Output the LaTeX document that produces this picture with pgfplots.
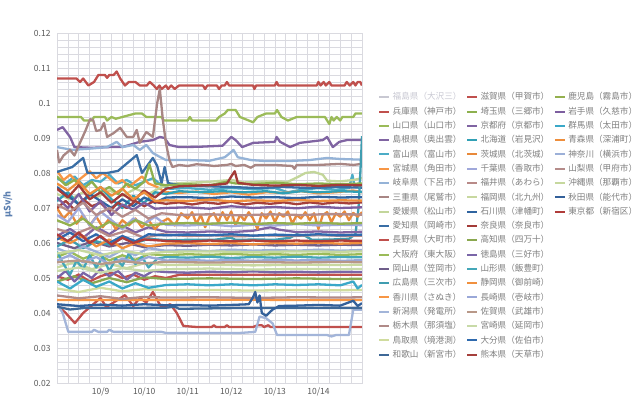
\documentclass[border=0pt]{standalone}
\usepackage{fontspec}
\setmainfont{Noto Sans CJK JP}
\usepackage{pgfplots}
\pgfplotsset{compat=1.18}
\definecolor{gridc}{HTML}{DADAE0}
\definecolor{tickc}{HTML}{595959}
\definecolor{legc}{HTML}{7F7F7F}
\definecolor{ylabc}{HTML}{5B7FB0}
\definecolor{cFukushima}{HTML}{C8C8D2}
\definecolor{cHyogo}{HTML}{C0504D}
\definecolor{cYamaguchi}{HTML}{9BBB59}
\definecolor{cShimane}{HTML}{8064A2}
\definecolor{cToyama}{HTML}{4BACC6}
\definecolor{cMiyagi}{HTML}{F79646}
\definecolor{cGifu}{HTML}{95B3D7}
\definecolor{cMie}{HTML}{A88684}
\definecolor{cEhime}{HTML}{C3D69B}
\definecolor{cAichi}{HTML}{3A6EA5}
\definecolor{cNagano}{HTML}{C0504D}
\definecolor{cOsaka}{HTML}{9BBB59}
\definecolor{cOkayama}{HTML}{6F5E8A}
\definecolor{cHiroshima}{HTML}{3F9DB0}
\definecolor{cKagawa}{HTML}{F79646}
\definecolor{cNiigata}{HTML}{A3B5D9}
\definecolor{cTochigi}{HTML}{B08A88}
\definecolor{cTottori}{HTML}{D0DC9E}
\definecolor{cWakayama}{HTML}{3E6897}
\definecolor{cShiga}{HTML}{C0504D}
\definecolor{cSaitama}{HTML}{8DB04E}
\definecolor{cKyoto}{HTML}{8064A2}
\definecolor{cHokkaido}{HTML}{31A0B5}
\definecolor{cIbaraki}{HTML}{E8893A}
\definecolor{cChiba}{HTML}{A0A8DA}
\definecolor{cFukui}{HTML}{B88A88}
\definecolor{cFukuoka}{HTML}{C8D8A0}
\definecolor{cIshikawa}{HTML}{3064A0}
\definecolor{cNara}{HTML}{A33B38}
\definecolor{cKochi}{HTML}{8AA84F}
\definecolor{cTokushima}{HTML}{7A66A8}
\definecolor{cYamagata}{HTML}{44A7B8}
\definecolor{cShizuoka}{HTML}{F0903E}
\definecolor{cNagasaki}{HTML}{9AA8D8}
\definecolor{cSaga}{HTML}{B89888}
\definecolor{cMiyazaki}{HTML}{C8DAA8}
\definecolor{cOita}{HTML}{2F6AAE}
\definecolor{cKumamoto}{HTML}{A5403C}
\definecolor{cKagoshima}{HTML}{94B04E}
\definecolor{cIwate}{HTML}{7D5FA0}
\definecolor{cGunma}{HTML}{3AA8C8}
\definecolor{cAomori}{HTML}{EE8E3C}
\definecolor{cKanagawa}{HTML}{9CB0D8}
\definecolor{cYamanashi}{HTML}{B58C8A}
\definecolor{cOkinawa}{HTML}{C6D89E}
\definecolor{cAkita}{HTML}{33609A}
\definecolor{cTokyo}{HTML}{B03C3A}
\newcommand{\LE}[2]{\addlegendimage{color=#1}\addlegendentry{#2}}
\newcommand{\LEmpty}{\addlegendimage{empty legend}\addlegendentry{}}
\begin{document}
\begin{tikzpicture}
\begin{axis}[
  at={(0pt,0pt)}, anchor=south west,
  scale only axis, width=305pt, height=350pt,
  xmin=0, xmax=7, ymin=0.02, ymax=0.12,
  xtick={1,2,3,4,5,6},
  xticklabels={10/9,10/10,10/11,10/12,10/13,10/14},
  minor xtick={0,0.25,0.5,0.75,1.25,1.5,1.75,2.25,2.5,2.75,3.25,3.5,3.75,4.25,4.5,4.75,5.25,5.5,5.75,6.25,6.5,6.75,7},
  ytick={0.02,0.03,0.04,0.05,0.06,0.07,0.08,0.09,0.1,0.11,0.12},
  minor ytick={0.022,0.024,0.026,0.028,0.032,0.034,0.036,0.038,0.042,0.044,0.046,0.048,0.052,0.054,0.056,0.058,0.062,0.064,0.066,0.068,0.072,0.074,0.076,0.078,0.082,0.084,0.086,0.088,0.092,0.094,0.096,0.098,0.102,0.104,0.106,0.108,0.112,0.114,0.116,0.118},
  grid=both,
  major grid style={color=gridc, line width=0.7pt},
  minor grid style={color=gridc, line width=0.7pt},
  axis line style={color=gridc, line width=0.7pt},
  major tick length=0pt, minor tick length=0pt,
  /pgf/number format/assume math mode=true,
  ticklabel style={font=\fontsize{8.5}{10}\selectfont, text=tickc},
  yticklabel style={/pgf/number format/fixed, /pgf/number format/precision=2, xshift=-3pt},
  xticklabel style={yshift=-1.5pt},
  scaled y ticks=false,
  ylabel={μSv/h},
  every axis y label/.style={at={(axis description cs:-0.161,0.51)}, rotate=90, anchor=center, font=\bfseries\fontsize{9}{10}\selectfont, text=ylabc},
  every axis plot/.append style={line width=2.3pt, line join=round},
  legend columns=3,
  legend cell align=left,
  legend image code/.code={\draw[#1, line width=2pt] (0pt,0pt) -- (10pt,0pt);},
  legend style={at={(axis description cs:1.0525,0.833)}, anchor=north west, draw=none, fill=none, inner sep=0pt,
    font=\fontsize{8.6}{10}\selectfont, text=legc, row sep=3pt,
    nodes={inner ysep=0pt, inner xsep=2.5pt, text height=8.3pt, text depth=3pt},
    /tikz/every even column/.append style={column sep=2pt}},
]
% ---- plots (drawn in series order) ----
\addplot[forget plot, color=cHyogo] coordinates {(0,0.107)(0.45,0.107)(0.53,0.106)(0.6,0.107)(0.72,0.105)(0.85,0.106)(0.95,0.108)(1.1,0.108)(1.15,0.1072)(1.2,0.108)(1.3,0.108)(1.37,0.109)(1.45,0.107)(1.56,0.105)(1.65,0.106)(1.8,0.106)(1.9,0.105)(2.06,0.105)(2.13,0.106)(2.22,0.105)(2.29,0.104)(2.35,0.105)(2.4,0.104)(2.5,0.105)(2.55,0.104)(2.62,0.105)(2.7,0.104)(2.8,0.105)(3.35,0.105)(3.4,0.104)(3.45,0.105)(3.67,0.105)(3.72,0.104)(3.78,0.105)(3.85,0.105)(3.9,0.106)(3.95,0.105)(4.5,0.105)(4.53,0.104)(4.57,0.105)(5.0,0.105)(5.04,0.106)(5.08,0.105)(5.96,0.105)(6.0,0.106)(6.05,0.105)(6.12,0.106)(6.17,0.105)(6.25,0.106)(6.3,0.105)(6.6,0.105)(6.65,0.106)(6.72,0.105)(6.8,0.106)(6.85,0.105)(6.9,0.106)(6.96,0.106)(7.0,0.105)};
\addplot[forget plot, color=cYamaguchi] coordinates {(0,0.096)(0.55,0.096)(0.62,0.095)(0.8,0.095)(0.85,0.096)(1.1,0.096)(1.15,0.095)(1.25,0.096)(1.35,0.0955)(1.5,0.096)(1.8,0.097)(1.95,0.097)(2.05,0.096)(2.4,0.096)(2.45,0.095)(3.0,0.095)(3.05,0.096)(3.1,0.095)(3.65,0.095)(3.72,0.096)(3.85,0.097)(3.92,0.098)(4.1,0.098)(4.2,0.096)(4.4,0.095)(4.5,0.0945)(4.6,0.096)(4.8,0.097)(5.0,0.097)(5.05,0.098)(5.15,0.096)(5.3,0.095)(5.5,0.096)(6.15,0.096)(6.2,0.095)(6.25,0.094)(6.3,0.096)(6.35,0.095)(6.42,0.096)(6.5,0.095)(6.55,0.096)(6.8,0.096)(6.85,0.097)(7.0,0.097)};
\addplot[forget plot, color=cShimane] coordinates {(0,0.0923)(0.13,0.0931)(0.3,0.0903)(0.4,0.0874)(0.8,0.0872)(1.2,0.0874)(1.5,0.0874)(1.9,0.0889)(2.2,0.0894)(2.36,0.0903)(2.47,0.090)(2.58,0.088)(2.8,0.0874)(3.28,0.0875)(3.8,0.0878)(4.0,0.0903)(4.1,0.0894)(4.25,0.0874)(4.5,0.0886)(5.0,0.0889)(5.04,0.0903)(5.12,0.0889)(5.35,0.0874)(5.57,0.0886)(6.1,0.0894)(6.2,0.0903)(6.33,0.0874)(6.48,0.0889)(6.65,0.0894)(7.0,0.0894)};
\addplot[forget plot, color=cToyama] coordinates {(0,0.0785)(0.2,0.077)(0.4,0.079)(0.6,0.0765)(0.8,0.078)(1.0,0.0775)(1.2,0.0795)(1.4,0.077)(1.6,0.078)(1.8,0.0765)(2.0,0.0775)(2.2,0.0785)(2.4,0.0765)(2.6,0.0755)(3.0,0.0757)(3.5,0.0752)(4.0,0.0757)(4.5,0.0754)(5.0,0.0757)(5.3,0.0745)(5.6,0.0752)(6.0,0.0757)(6.4,0.0752)(6.7,0.0757)(6.78,0.0795)(6.83,0.076)(7.0,0.0758)};
\addplot[forget plot, color=cMiyagi] coordinates {(0,0.0806)(0.15,0.078)(0.3,0.0795)(0.45,0.0775)(0.6,0.079)(0.75,0.0805)(0.9,0.0785)(1.05,0.080)(1.2,0.0785)(1.35,0.077)(1.5,0.078)(1.65,0.076)(1.8,0.0775)(1.95,0.079)(2.1,0.077)(2.3,0.076)(2.5,0.0745)(2.8,0.0743)(3.2,0.0747)(3.6,0.074)(4.0,0.0745)(4.4,0.0738)(4.8,0.0745)(5.2,0.0743)(5.6,0.0748)(6.0,0.0742)(6.4,0.0745)(6.8,0.075)(7.0,0.0745)};
\addplot[forget plot, color=cGifu] coordinates {(0,0.0874)(0.35,0.0866)(0.8,0.087)(1.15,0.0874)(1.37,0.0889)(1.5,0.0874)(1.75,0.088)(1.9,0.0866)(2.05,0.088)(2.2,0.0857)(2.36,0.0846)(2.5,0.0837)(3.0,0.0837)(3.5,0.0835)(3.85,0.0845)(3.97,0.0857)(4.05,0.0866)(4.15,0.0845)(4.45,0.0837)(4.8,0.0834)(5.3,0.0834)(5.8,0.0837)(6.2,0.0843)(6.5,0.084)(7.0,0.0838)};
\addplot[forget plot, color=cMie] coordinates {(0,0.0866)(0.05,0.083)(0.15,0.085)(0.3,0.0866)(0.4,0.085)(0.53,0.0887)(0.65,0.092)(0.76,0.0954)(0.83,0.0951)(0.9,0.092)(1.0,0.0923)(1.08,0.0943)(1.15,0.0903)(1.3,0.0914)(1.45,0.0929)(1.6,0.0903)(1.75,0.0903)(1.83,0.0923)(1.9,0.0886)(2.05,0.0917)(2.2,0.0903)(2.3,0.100)(2.36,0.104)(2.43,0.0951)(2.5,0.0886)(2.58,0.0837)(2.65,0.0817)(2.8,0.0823)(3.0,0.082)(3.2,0.0825)(3.4,0.0823)(3.6,0.082)(3.9,0.0823)(4.0,0.0826)(4.1,0.082)(4.3,0.0823)(4.45,0.0815)(4.55,0.0823)(5.0,0.0823)(5.4,0.082)(5.45,0.0812)(5.5,0.0823)(6.0,0.0823)(6.5,0.0826)(6.8,0.0823)(7.0,0.0826)};
\addplot[forget plot, color=cEhime] coordinates {(0,0.074)(0.3,0.0725)(0.6,0.0745)(0.9,0.073)(1.2,0.075)(1.5,0.0735)(1.8,0.0755)(2.1,0.074)(2.4,0.076)(2.7,0.077)(3.0,0.0772)(3.5,0.0775)(4.0,0.078)(4.3,0.0773)(4.8,0.0776)(5.3,0.0775)(5.55,0.079)(5.7,0.080)(5.9,0.0803)(6.1,0.0795)(6.2,0.0778)(6.5,0.0776)(6.8,0.078)(7.0,0.0785)};
\addplot[forget plot, color=cAichi] coordinates {(0,0.0803)(0.35,0.0817)(0.6,0.0843)(0.7,0.080)(1.15,0.080)(1.4,0.0806)(1.83,0.0851)(1.95,0.080)(2.2,0.0843)(2.3,0.082)(2.4,0.0771)(2.47,0.0817)(2.55,0.0771)(2.8,0.0766)(3.3,0.0763)(4.0,0.076)(4.6,0.0757)(5.2,0.076)(5.8,0.0757)(6.4,0.076)(7.0,0.0758)};
\addplot[forget plot, color=cNagano] coordinates {(0,0.0423)(0.2,0.040)(0.41,0.0371)(0.6,0.040)(1.0,0.0443)(1.13,0.0417)(1.3,0.043)(1.56,0.0451)(1.75,0.042)(1.9,0.0443)(2.05,0.043)(2.2,0.046)(2.4,0.0415)(2.6,0.0425)(2.75,0.040)(2.9,0.0363)(3.2,0.036)(3.55,0.036)(3.6,0.0365)(3.65,0.036)(3.85,0.036)(3.9,0.0365)(3.95,0.036)(4.5,0.036)(4.6,0.0365)(4.7,0.0365)(4.75,0.036)(4.85,0.0365)(4.9,0.036)(7.0,0.036)};
\addplot[forget plot, color=cOsaka] coordinates {(0,0.056)(0.3,0.0575)(0.6,0.0555)(0.9,0.057)(1.2,0.055)(1.5,0.0565)(1.8,0.0552)(2.1,0.0568)(2.5,0.0565)(3.0,0.0568)(3.5,0.0566)(4.0,0.0569)(4.5,0.0566)(5.0,0.0568)(5.5,0.0566)(6.0,0.0569)(6.5,0.0566)(7.0,0.0568)};
\addplot[forget plot, color=cOkayama] coordinates {(0,0.060)(0.4,0.0585)(0.8,0.0605)(1.2,0.059)(1.6,0.060)(2.0,0.0588)(2.5,0.0594)(3.0,0.0592)(3.5,0.0595)(4.0,0.0593)(4.5,0.0596)(5.0,0.0593)(5.5,0.0595)(6.0,0.0593)(6.5,0.0595)(7.0,0.0594)};
\addplot[forget plot, color=cHiroshima] coordinates {(0,0.059)(0.3,0.061)(0.6,0.0585)(0.9,0.0605)(1.2,0.0595)(1.5,0.0615)(1.8,0.060)(2.1,0.0612)(2.5,0.0608)(3.0,0.0609)(3.6,0.0609)(4.0,0.0615)(4.1,0.0609)(4.6,0.061)(5.0,0.0609)(5.35,0.0615)(5.5,0.0625)(5.7,0.062)(5.85,0.0609)(6.3,0.061)(6.7,0.0612)(6.85,0.0625)(6.92,0.070)(6.97,0.082)(7.0,0.0905)};
\addplot[forget plot, color=cKagawa] coordinates {(0,0.0437)(2,0.0437)(4,0.0438)(6,0.0437)(7,0.0437)};
\addplot[forget plot, color=cNiigata] coordinates {(0,0.0426)(0.13,0.040)(0.26,0.0346)(0.8,0.0346)(0.85,0.0352)(0.95,0.0346)(1.15,0.0346)(1.2,0.0352)(1.3,0.0346)(2.4,0.0346)(2.5,0.0343)(4.2,0.0343)(4.55,0.0346)(4.65,0.039)(4.8,0.0385)(4.95,0.037)(5.05,0.0337)(6.2,0.0337)(6.3,0.0333)(6.4,0.0337)(6.7,0.0337)(6.8,0.0409)(6.9,0.0409)(7.0,0.0409)};
\addplot[forget plot, color=cTochigi] coordinates {(0,0.045)(0.5,0.0442)(1.0,0.0448)(1.5,0.044)(2.0,0.0446)(2.5,0.0444)(3.5,0.0445)(4.5,0.0443)(5.5,0.0445)(6.5,0.0444)(7.0,0.0445)};
\addplot[forget plot, color=cTottori] coordinates {(0,0.047)(0.5,0.046)(1.0,0.0472)(1.5,0.0462)(2.0,0.0468)(2.5,0.0465)(3.5,0.0466)(4.5,0.0464)(5.5,0.0466)(6.5,0.0465)(7.0,0.0466)};
\addplot[forget plot, color=cWakayama] coordinates {(0,0.0418)(0.3,0.041)(0.6,0.0414)(1.5,0.0414)(2.5,0.0415)(2.7,0.0418)(2.8,0.0412)(4.0,0.0414)(5.5,0.0414)(7.0,0.0414)};
\addplot[forget plot, color=cShiga] coordinates {(0,0.0505)(0.25,0.0495)(0.5,0.051)(0.75,0.049)(1.0,0.0505)(1.25,0.0515)(1.5,0.050)(1.75,0.051)(2.0,0.0495)(2.25,0.0505)(2.5,0.050)(2.8,0.0509)(3.5,0.0509)(4.5,0.0509)(5.5,0.0509)(6.5,0.0509)(7.0,0.0509)};
\addplot[forget plot, color=cSaitama] coordinates {(0,0.079)(0.2,0.0765)(0.4,0.078)(0.6,0.0755)(0.8,0.0775)(1.0,0.0745)(1.2,0.076)(1.4,0.074)(1.6,0.077)(1.8,0.0755)(2.0,0.0775)(2.12,0.0825)(2.25,0.077)(2.5,0.0765)(3.0,0.0768)(3.5,0.0765)(3.9,0.0775)(4.1,0.077)(4.5,0.0768)(5.0,0.0772)(5.5,0.0768)(6.0,0.077)(6.5,0.0768)(7.0,0.077)};
\addplot[forget plot, color=cKyoto] coordinates {(0,0.062)(0.3,0.064)(0.6,0.0615)(0.9,0.0645)(1.2,0.0625)(1.5,0.065)(1.8,0.063)(2.1,0.0645)(2.5,0.0632)(3.0,0.063)(3.5,0.0633)(4.0,0.0631)(4.5,0.0635)(4.9,0.0645)(5.1,0.0638)(5.5,0.0631)(6.0,0.0633)(6.5,0.063)(7.0,0.0632)};
\addplot[forget plot, color=cHokkaido] coordinates {(0,0.072)(0.25,0.0745)(0.5,0.071)(0.75,0.0735)(1.0,0.076)(1.25,0.0725)(1.5,0.070)(1.75,0.0735)(2.0,0.0715)(2.25,0.0745)(2.5,0.074)(2.8,0.0748)(3.3,0.0745)(3.8,0.0748)(4.3,0.0745)(4.8,0.0748)(5.2,0.0742)(5.6,0.0748)(6.0,0.0745)(6.5,0.0748)(7.0,0.0746)};
\addplot[forget plot, color=cIbaraki] coordinates {(0,0.070)(0.15,0.067)(0.3,0.069)(0.45,0.0655)(0.6,0.068)(0.75,0.065)(0.9,0.0675)(1.05,0.0645)(1.2,0.067)(1.35,0.064)(1.5,0.0665)(1.65,0.065)(1.8,0.067)(1.95,0.0645)(2.1,0.0665)(2.25,0.064)(2.4,0.066)(2.55,0.067)(2.7,0.065)(2.85,0.0685)(3.0,0.067)(3.1,0.0688)(3.2,0.0655)(3.3,0.068)(3.4,0.0645)(3.5,0.0675)(3.6,0.0685)(3.7,0.066)(3.8,0.0688)(3.9,0.0665)(4.0,0.069)(4.1,0.065)(4.2,0.068)(4.3,0.0665)(4.4,0.0688)(4.5,0.067)(4.6,0.064)(4.7,0.0685)(4.8,0.067)(4.9,0.069)(5.0,0.066)(5.1,0.0685)(5.2,0.0675)(5.3,0.069)(5.4,0.0655)(5.5,0.068)(5.6,0.067)(5.7,0.0688)(5.8,0.0665)(5.9,0.0685)(6.0,0.064)(6.1,0.068)(6.2,0.0688)(6.3,0.066)(6.4,0.0685)(6.5,0.0675)(6.6,0.069)(6.7,0.0665)(6.8,0.0686)(6.9,0.0675)(7.0,0.0688)};
\addplot[forget plot, color=cChiba] coordinates {(0,0.068)(0.25,0.066)(0.5,0.070)(0.75,0.065)(1.0,0.069)(1.25,0.0665)(1.5,0.064)(1.75,0.067)(2.0,0.0655)(2.25,0.0675)(2.5,0.0652)(3.0,0.065)(3.5,0.0653)(4.0,0.0648)(4.5,0.0652)(5.0,0.065)(5.5,0.0654)(6.0,0.065)(6.5,0.0652)(7.0,0.0651)};
\addplot[forget plot, color=cFukui] coordinates {(0,0.064)(0.4,0.0625)(0.8,0.0645)(1.2,0.062)(1.6,0.0635)(2.0,0.0615)(2.4,0.0625)(3.0,0.062)(3.6,0.0622)(4.2,0.0619)(4.8,0.0622)(5.4,0.062)(6.0,0.0623)(6.6,0.062)(7.0,0.0621)};
\addplot[forget plot, color=cFukuoka] coordinates {(0,0.053)(0.4,0.0545)(0.8,0.0525)(1.2,0.054)(1.6,0.0528)(2.0,0.0542)(2.5,0.0537)(3.5,0.0538)(4.5,0.0536)(5.5,0.0538)(6.5,0.0537)(7.0,0.0538)};
\addplot[forget plot, color=cIshikawa] coordinates {(0,0.076)(0.25,0.0735)(0.5,0.071)(0.75,0.074)(1.0,0.072)(1.25,0.070)(1.5,0.0725)(1.75,0.0705)(2.0,0.073)(2.25,0.0715)(2.5,0.073)(3.0,0.0731)(3.5,0.0728)(4.0,0.0733)(4.5,0.073)(5.0,0.0731)(5.5,0.0728)(6.0,0.0732)(6.5,0.073)(7.0,0.0731)};
\addplot[forget plot, color=cNara] coordinates {(0,0.0755)(0.25,0.073)(0.5,0.0765)(0.75,0.0725)(1.0,0.0745)(1.25,0.0715)(1.5,0.074)(1.75,0.072)(2.0,0.075)(2.25,0.073)(2.5,0.0755)(2.8,0.0762)(3.2,0.0764)(3.6,0.0766)(3.9,0.077)(4.0,0.079)(4.08,0.0805)(4.15,0.0772)(4.5,0.0766)(5.0,0.0764)(5.5,0.0766)(6.0,0.0763)(6.5,0.0766)(7.0,0.0765)};
\addplot[forget plot, color=cKochi] coordinates {(0,0.049)(0.4,0.0505)(0.8,0.0485)(1.2,0.050)(1.6,0.0488)(2.0,0.0502)(2.5,0.0497)(3.5,0.0499)(4.5,0.0497)(5.5,0.0499)(6.5,0.0497)(7.0,0.0498)};
\addplot[forget plot, color=cTokushima] coordinates {(0,0.050)(0.2,0.052)(0.4,0.049)(0.6,0.0515)(0.8,0.050)(1.0,0.0525)(1.2,0.0505)(1.4,0.052)(1.6,0.0495)(1.8,0.0515)(2.0,0.0505)(2.2,0.052)(2.5,0.0517)(3.0,0.0515)(3.5,0.0518)(4.0,0.0516)(4.5,0.0519)(5.0,0.0516)(5.5,0.0518)(6.0,0.0516)(6.5,0.0518)(7.0,0.0517)};
\addplot[forget plot, color=cYamagata] coordinates {(0,0.0575)(0.15,0.054)(0.3,0.051)(0.45,0.055)(0.6,0.0525)(0.75,0.0565)(0.9,0.053)(1.05,0.056)(1.2,0.052)(1.35,0.0555)(1.5,0.0535)(1.65,0.057)(1.8,0.054)(1.95,0.056)(2.1,0.053)(2.3,0.0555)(2.5,0.056)(3.0,0.0558)(3.5,0.0561)(4.0,0.0557)(4.5,0.056)(5.0,0.0558)(5.5,0.0561)(6.0,0.0558)(6.5,0.056)(7.0,0.0559)};
\addplot[forget plot, color=cShizuoka] coordinates {(0,0.0615)(0.3,0.060)(0.6,0.062)(0.9,0.059)(1.2,0.061)(1.5,0.0585)(1.8,0.060)(2.1,0.059)(2.5,0.0598)(3.0,0.060)(3.5,0.0597)(4.0,0.060)(4.5,0.0596)(5.0,0.060)(5.5,0.0598)(6.0,0.0601)(6.5,0.0598)(7.0,0.060)};
\addplot[forget plot, color=cNagasaki] coordinates {(0,0.055)(0.3,0.0565)(0.6,0.0545)(0.9,0.056)(1.2,0.054)(1.5,0.0555)(1.8,0.0545)(2.1,0.056)(2.5,0.055)(3.0,0.0552)(3.5,0.0549)(4.0,0.0552)(4.5,0.0549)(5.0,0.0552)(5.5,0.055)(6.0,0.0552)(6.5,0.0549)(7.0,0.0551)};
\addplot[forget plot, color=cSaga] coordinates {(0,0.0545)(0.5,0.055)(1.0,0.054)(1.5,0.0548)(2.0,0.0542)(2.5,0.0546)(3.5,0.0544)(4.5,0.0546)(5.5,0.0544)(6.5,0.0546)(7.0,0.0545)};
\addplot[forget plot, color=cMiyazaki] coordinates {(0,0.052)(0.5,0.053)(1.0,0.0515)(1.5,0.0528)(2.0,0.052)(2.5,0.0525)(3.5,0.0527)(4.5,0.0524)(5.5,0.0526)(6.5,0.0525)(7.0,0.0526)};
\addplot[forget plot, color=cOita] coordinates {(0,0.061)(0.3,0.063)(0.6,0.0605)(0.9,0.0625)(1.2,0.060)(1.5,0.062)(1.8,0.0605)(2.1,0.0625)(2.5,0.0622)(3.0,0.0624)(3.5,0.0622)(4.0,0.0625)(4.5,0.0621)(5.0,0.0624)(5.5,0.0622)(6.0,0.0625)(6.5,0.0622)(7.0,0.0624)};
\addplot[forget plot, color=cKumamoto] coordinates {(0,0.070)(0.2,0.072)(0.4,0.0695)(0.6,0.0725)(0.8,0.0705)(1.0,0.0715)(1.2,0.069)(1.4,0.0715)(1.6,0.070)(1.8,0.072)(2.0,0.0705)(2.2,0.0718)(2.5,0.0712)(2.8,0.0716)(3.1,0.071)(3.4,0.0716)(3.7,0.0712)(4.0,0.0718)(4.3,0.071)(4.6,0.0715)(4.9,0.0712)(5.2,0.0716)(5.5,0.0711)(5.8,0.0716)(6.1,0.0712)(6.4,0.0716)(6.7,0.0713)(7.0,0.0716)};
\addplot[forget plot, color=cKagoshima] coordinates {(0,0.0665)(0.3,0.065)(0.6,0.067)(0.9,0.064)(1.2,0.066)(1.5,0.0645)(1.8,0.0665)(2.1,0.065)(2.5,0.0655)(3.0,0.0657)(3.5,0.0655)(4.0,0.0658)(4.5,0.0654)(5.0,0.0657)(5.5,0.0655)(6.0,0.0658)(6.5,0.0655)(7.0,0.0657)};
\addplot[forget plot, color=cIwate] coordinates {(0,0.073)(0.25,0.070)(0.5,0.074)(0.75,0.069)(1.0,0.072)(1.25,0.068)(1.5,0.071)(1.75,0.0695)(2.0,0.0715)(2.25,0.0698)(2.5,0.070)(3.0,0.0702)(3.5,0.0698)(4.0,0.0705)(4.5,0.070)(5.0,0.0703)(5.5,0.0699)(6.0,0.0704)(6.5,0.070)(7.0,0.0702)};
\addplot[forget plot, color=cGunma] coordinates {(0,0.049)(0.3,0.047)(0.6,0.0495)(0.9,0.0475)(1.2,0.049)(1.5,0.047)(1.8,0.0485)(2.1,0.0472)(2.5,0.048)(3.0,0.0482)(3.5,0.0479)(4.0,0.0482)(4.5,0.0479)(5.0,0.0482)(5.5,0.048)(6.0,0.0482)(6.5,0.0479)(6.8,0.049)(6.9,0.047)(7.0,0.048)};
\addplot[forget plot, color=cAomori] coordinates {(0,0.077)(0.25,0.075)(0.5,0.0775)(0.75,0.074)(1.0,0.076)(1.25,0.0735)(1.5,0.0755)(1.75,0.0725)(2.0,0.0745)(2.25,0.072)(2.5,0.0722)(3.0,0.072)(3.5,0.0724)(4.0,0.0719)(4.5,0.0722)(5.0,0.072)(5.5,0.0723)(6.0,0.072)(6.5,0.0722)(7.0,0.0721)};
\addplot[forget plot, color=cKanagawa] coordinates {(0,0.0585)(0.3,0.057)(0.6,0.059)(0.9,0.0575)(1.2,0.056)(1.5,0.058)(1.8,0.0565)(2.1,0.0585)(2.5,0.0578)(3.0,0.058)(3.5,0.0577)(4.0,0.0581)(4.5,0.0578)(5.0,0.058)(5.5,0.0578)(6.0,0.0581)(6.5,0.0578)(7.0,0.058)};
\addplot[forget plot, color=cYamanashi] coordinates {(0,0.071)(0.3,0.069)(0.6,0.0715)(0.9,0.068)(1.2,0.070)(1.5,0.0675)(1.8,0.0695)(2.1,0.067)(2.4,0.0685)(2.8,0.068)(3.5,0.0682)(4.2,0.0679)(4.9,0.0682)(5.6,0.068)(6.3,0.0683)(7.0,0.0681)};
\addplot[forget plot, color=cOkinawa] coordinates {(0,0.057)(0.5,0.058)(1.0,0.0565)(1.5,0.0578)(2.0,0.0568)(2.5,0.0575)(3.5,0.0576)(4.5,0.0574)(5.5,0.0576)(6.5,0.0575)(7.0,0.0576)};
\addplot[forget plot, color=cAkita] coordinates {(0,0.0425)(0.5,0.042)(1.0,0.0424)(1.5,0.0421)(2.0,0.0425)(2.5,0.0422)(3.0,0.0423)(3.5,0.0421)(4.0,0.0423)(4.4,0.0425)(4.5,0.0445)(4.55,0.046)(4.6,0.043)(4.65,0.045)(4.7,0.040)(4.8,0.0392)(4.95,0.041)(5.1,0.042)(5.5,0.0421)(6.0,0.0423)(6.5,0.0421)(6.8,0.0435)(6.9,0.042)(7.0,0.0428)};
\addplot[forget plot, color=cTokyo] coordinates {(0,0.0625)(0.25,0.0605)(0.5,0.063)(0.75,0.060)(1.0,0.062)(1.25,0.0595)(1.5,0.0615)(1.75,0.060)(2.0,0.061)(2.5,0.0606)(3.0,0.0604)(3.5,0.0607)(4.0,0.0605)(4.5,0.0607)(5.0,0.0605)(5.5,0.0607)(6.0,0.0605)(6.5,0.0607)(7.0,0.0606)};
% ---- legend, row by row ----
\LE{cFukushima}{\textcolor{cFukushima}{福島県（大沢三）}}
\LE{cShiga}{滋賀県（甲賀市）}
\LE{cKagoshima}{鹿児島（霧島市）}
\LE{cHyogo}{兵庫県（神戸市）}
\LE{cSaitama}{埼玉県（三郷市）}
\LE{cIwate}{岩手県（久慈市）}
\LE{cYamaguchi}{山口県（山口市）}
\LE{cKyoto}{京都府（京都市）}
\LE{cGunma}{群馬県（太田市）}
\LE{cShimane}{島根県（奥出雲）}
\LE{cHokkaido}{北海道（岩見沢）}
\LE{cAomori}{青森県（深浦町）}
\LE{cToyama}{富山県（富山市）}
\LE{cIbaraki}{茨城県（北茨城）}
\LE{cKanagawa}{神奈川（横浜市）}
\LE{cMiyagi}{宮城県（角田市）}
\LE{cChiba}{千葉県（香取市）}
\LE{cYamanashi}{山梨県（甲府市）}
\LE{cGifu}{岐阜県（下呂市）}
\LE{cFukui}{福井県（あわら）}
\LE{cOkinawa}{沖縄県（那覇市）}
\LE{cMie}{三重県（尾鷲市）}
\LE{cFukuoka}{福岡県（北九州）}
\LE{cAkita}{秋田県（能代市）}
\LE{cEhime}{愛媛県（松山市）}
\LE{cIshikawa}{石川県（津幡町）}
\LE{cTokyo}{東京都（新宿区）}
\LE{cAichi}{愛知県（岡崎市）}
\LE{cNara}{奈良県（奈良市）}
\LEmpty
\LE{cNagano}{長野県（大町市）}
\LE{cKochi}{高知県（四万十）}
\LEmpty
\LE{cOsaka}{大阪府（東大阪）}
\LE{cTokushima}{徳島県（三好市）}
\LEmpty
\LE{cOkayama}{岡山県（笠岡市）}
\LE{cYamagata}{山形県（飯豊町）}
\LEmpty
\LE{cHiroshima}{広島県（三次市）}
\LE{cShizuoka}{静岡県（御前崎）}
\LEmpty
\LE{cKagawa}{香川県（さぬき）}
\LE{cNagasaki}{長崎県（壱岐市）}
\LEmpty
\LE{cNiigata}{新潟県（発電所）}
\LE{cSaga}{佐賀県（武雄市）}
\LEmpty
\LE{cTochigi}{栃木県（那須塩）}
\LE{cMiyazaki}{宮崎県（延岡市）}
\LEmpty
\LE{cTottori}{鳥取県（境港測）}
\LE{cOita}{大分県（佐伯市）}
\LEmpty
\LE{cWakayama}{和歌山（新宮市）}
\LE{cKumamoto}{熊本県（天草市）}
\node[text=tickc, font=\fontsize{11}{13}\selectfont] at (rel axis cs:0.816,1.049) {(週間)};
\end{axis}
\path (-57pt,-12pt) rectangle (583pt,383pt);
\end{tikzpicture}
\end{document}
